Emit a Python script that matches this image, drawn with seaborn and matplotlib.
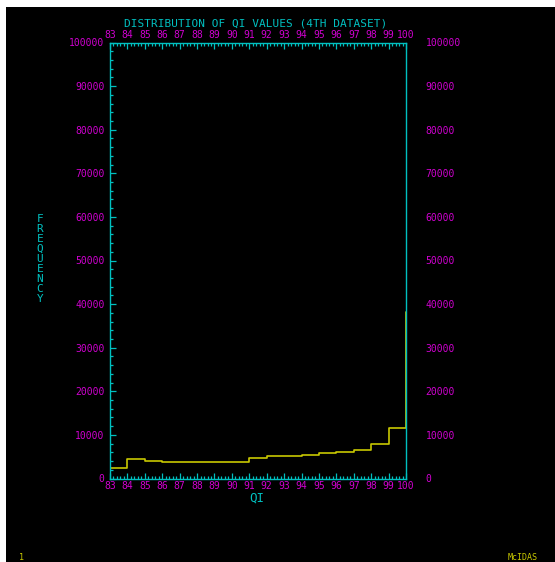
import matplotlib
matplotlib.use("Agg")
import matplotlib.pyplot as plt
from matplotlib.patches import Rectangle
from matplotlib.ticker import MultipleLocator
import pandas as pd
import seaborn as sns

# QI bins and their counts (last bin at 100 is drawn as a spike on the edge)
qi = [83, 84, 85, 86, 87, 88, 89, 90, 91, 92, 93, 94, 95, 96, 97, 98, 99, 100]
freq = [2500, 4400, 4000, 3800, 3800, 3800, 3800, 3800, 4600, 5200, 5200,
        5450, 5850, 6000, 6600, 7800, 11600, 38200]
xticks = list(range(83, 101))
yticks = list(range(0, 100001, 10000))

MAG = '#d000d0'
CYAN = '#00c0c0'
YEL = '#c8c800'

sns.set_style("dark")
plt.rcParams['font.family'] = ['DejaVu Sans Mono']

df = pd.DataFrame({'QI': qi, 'FREQ': freq})

fig = plt.figure(figsize=(5.55, 5.62), dpi=100, facecolor='white')
# black screen area (thin white strip top/left like the screenshot)
fig.patches.append(Rectangle((6 / 555, 0), 1, 555 / 562, transform=fig.transFigure,
                             facecolor='black', edgecolor='none', zorder=-5))
ax = fig.add_axes([110 / 555, 1 - 478.5 / 562, 296 / 555, 436 / 562])
ax.set_facecolor('black')
ax.set_zorder(2)

sns.lineplot(data=df, x='QI', y='FREQ', ax=ax, drawstyle='steps-post',
             estimator=None, sort=False, color=YEL, linewidth=1.2)

ax.set_xlim(83, 100)
ax.set_ylim(0, 100000)
ax.set_xticks(xticks)
ax.set_yticks(yticks)
ax.xaxis.set_minor_locator(MultipleLocator(0.2))
ax.yaxis.set_minor_locator(MultipleLocator(2000))
ax.grid(False)
ax.set_xlabel('')
ax.set_ylabel('')

for s in ax.spines.values():
    s.set_visible(True)
    s.set_color(CYAN)
    s.set_linewidth(1.0)

ax.tick_params(which='both', direction='in', top=True, right=True, left=True,
               bottom=True, labeltop=True, labelright=False, colors=CYAN,
               labelcolor=MAG, labelsize=7)
ax.tick_params(which='major', length=4.5, width=0.9, pad=4)
ax.tick_params(which='minor', length=2.2, width=0.9)
ax.tick_params(axis='x', which='major', pad=1.5)

# right-hand frequency labels sit further out from the frame
ax2 = ax.twinx()
ax2.set_ylim(ax.get_ylim())
ax2.set_yticks(yticks)
ax2.tick_params(axis='y', length=0, pad=14, labelcolor=MAG, labelsize=7)
ax2.grid(False)
for s in ax2.spines.values():
    s.set_visible(False)

fig.text(256 / 555, 1 - 23 / 562, 'DISTRIBUTION OF QI VALUES (4TH DATASET)',
         color=CYAN, fontsize=8, ha='center', va='center')
fig.text(257 / 555, 1 - 498.5 / 562, 'QI', color=CYAN, fontsize=9,
         ha='center', va='center')
fig.text(40 / 555, 1 - 259 / 562, '\n'.join('FREQUENCY'), color=CYAN,
         fontsize=8, ha='center', va='center', linespacing=1.0)
fig.text(21 / 555, 1 - 558 / 562, '1', color=YEL, fontsize=6,
         ha='center', va='center')
fig.text(523 / 555, 1 - 558 / 562, 'McIDAS', color=YEL, fontsize=6,
         ha='center', va='center')

fig.savefig('out.png', dpi=100, facecolor=fig.get_facecolor())
